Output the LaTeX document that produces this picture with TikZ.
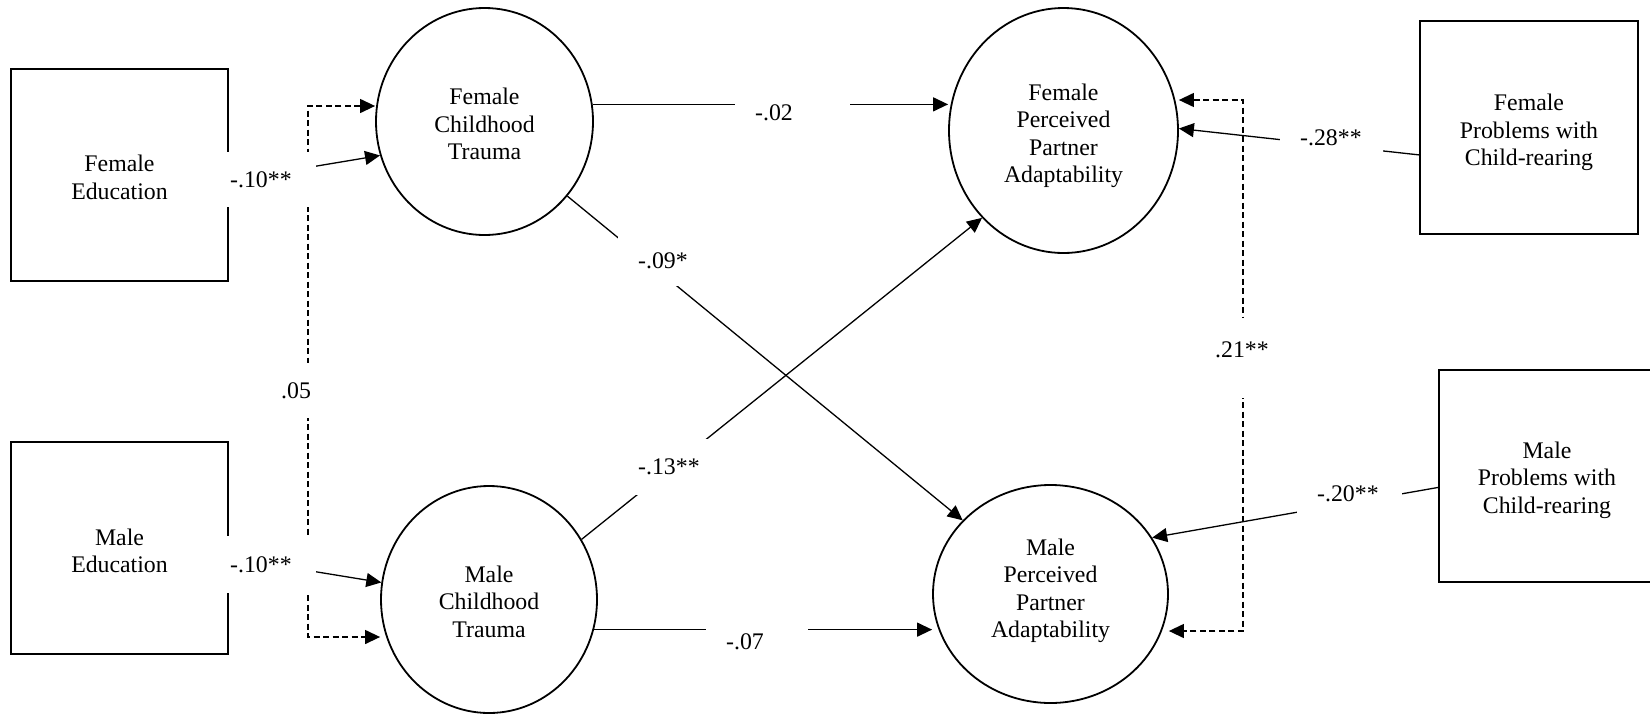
\documentclass[tikz,border=0pt]{standalone}
\usepackage{fontspec}
\setmainfont{Liberation Serif}
\usetikzlibrary{arrows.meta,shapes.geometric}
% invisible struts that set the height of a first line or the depth of a last line
\newcommand{\tophang}[1]{\rule{0pt}{#1}}
\newcommand{\lowhang}[1]{\rule[-#1]{0pt}{0pt}}
\begin{document}
\begin{tikzpicture}[x=1pt,y=-1pt,
  font=\fontsize{23.8}{27.5}\selectfont,
  varbox/.style={draw, line width=1.8pt, rectangle, minimum width=217pt,
    minimum height=212pt, inner sep=0pt, align=center},
  latent/.style={draw, line width=1.8pt, ellipse, inner sep=0pt, align=center},
  tip/.tip={Triangle[length=15pt,width=14pt]},
  effect/.style={line width=1.3pt, -tip},
  corr/.style={line width=1.3pt, dash pattern=on 6pt off 3.5pt, tip-tip},
  coef/.style={fill=white, anchor=west, inner xsep=20pt, inner ysep=0pt, align=left},
]
\useasboundingbox (0,0) rectangle (1650,713);

% observed variables
\node[varbox] (fedu) at (119.5,175) {\tophang{21.5pt}Female\\Education};
\node[varbox] (medu) at (119.5,548) {\tophang{22.7pt}Male\\Education};
\node[varbox, minimum width=218pt, minimum height=213pt] (fprob) at (1529,127.5)
  {\tophang{26.9pt}Female\\Problems with\\Child-rearing};
\node[varbox, minimum width=216pt] (mprob) at (1547,476)
  {\tophang{24.7pt}Male\\Problems with\\Child-rearing};

% latent variables
\node[latent, minimum width=217pt, minimum height=227pt] (fct) at (484.5,121.5)
  {\tophang{21.5pt}Female\\Childhood\\Trauma};
\node[latent, minimum width=216pt, minimum height=227pt] (mct) at (489,599.5)
  {\tophang{20.5pt}Male\\Childhood\\Trauma};
\node[latent, minimum width=229pt, minimum height=245pt] (fppa) at (1063.5,130.5)
  {\tophang{26.9pt}Female\\Perceived\\Partner\\Adaptability};
\node[latent, minimum width=235pt, minimum height=218pt] (mppa) at (1050.5,594)
  {Male\\Perceived\\Partner\\Adaptability\lowhang{11.6pt}};

% corners of the two correlation brackets
\coordinate (c1) at (308,106);
\coordinate (c2) at (308,637);
\coordinate (c3) at (1243,100);
\coordinate (c4) at (1243,631);

% paths
\draw[effect] (fedu.-3) -- (fct.198);
\draw[effect] (medu.-5) -- (mct.171);
\draw[corr] (c1 -| fct.west) -- (c1) -- (c2) -- (c2 -| mct.west);
\draw[corr] (c3 -| fppa.east) -- (c3) -- (c4) -- (c4 -| mppa.east);
\draw[effect] (fct.9) -- (fct.9 -| fppa.west);
\draw[effect] (fct.-42) -- (mppa.140);
\draw[effect] (mct.33) -- (fppa.227);
\draw[effect] (mct.-16.5) -- (mct.-16.5 -| mppa.west);
\draw[effect] (fprob.194) -- (fppa.1);
\draw[effect] (mprob.186) -- (mppa.29);

% coefficients
\node[coef, text width=66pt, minimum height=55pt] (k10f) at (210,179.5) {-.10**};
\node[coef, text width=66pt, minimum height=57pt] (k10m) at (210,564.5) {-.10**};
\node[coef, text width=30pt, minimum height=55pt] (k05) at (261,390.5) {.05};
\node[coef, text width=75pt, minimum height=50pt] (k02) at (735,113) {-.02};
\node[coef, text width=62pt, minimum height=50pt] (k07) at (706,642) {-.07};
\node[coef, text width=50pt, minimum height=50pt] (k09) at (618,261) {-.09*};
\node[coef, text width=62pt, minimum height=56pt] (k13) at (618,467) {-.13**};
\node[coef, text width=63pt, minimum height=50pt] (k28) at (1280,138) {-.28**};
\node[coef, text width=65pt, minimum height=50pt] (k20) at (1297,494) {-.20**};
\node[coef, text width=54pt, minimum height=80pt] (k21) at (1195,358) {.21**\lowhang{16pt}};
\end{tikzpicture}
\end{document}
